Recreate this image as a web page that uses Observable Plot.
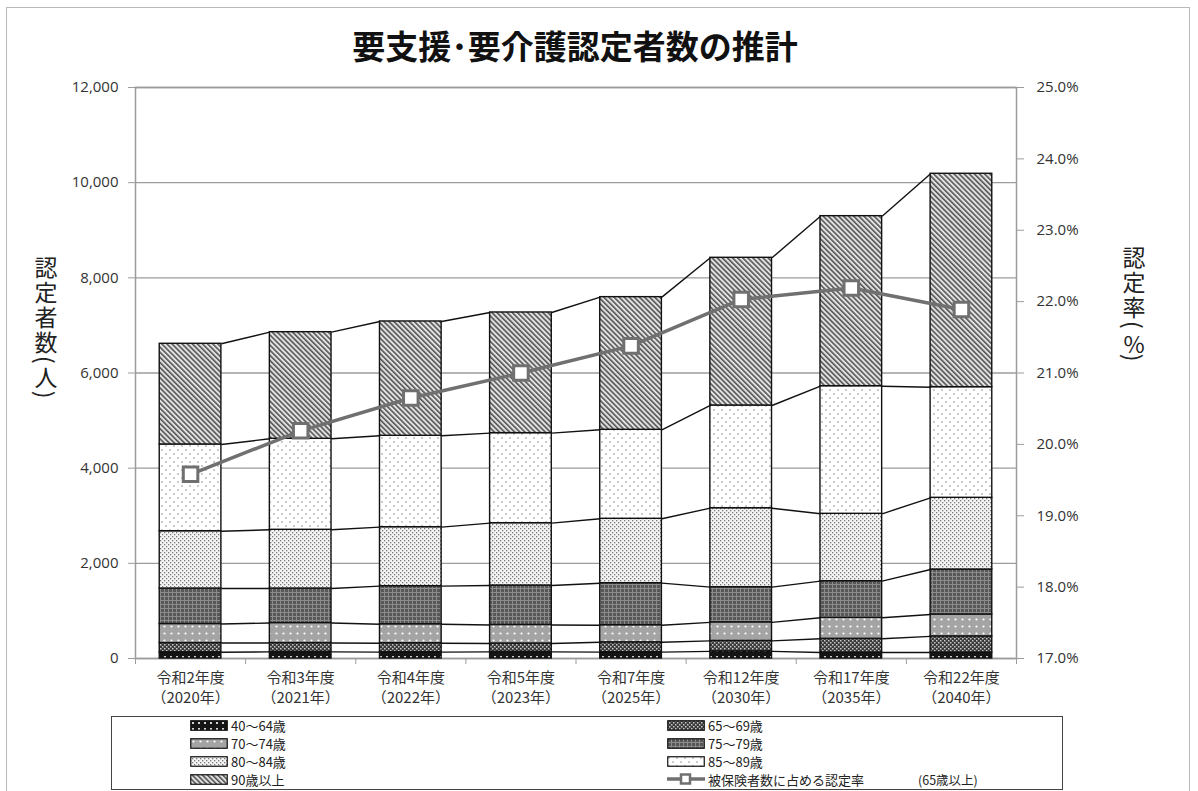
<!DOCTYPE html>
<html><head><meta charset="utf-8">
<script src="https://cdn.jsdelivr.net/npm/d3@7"></script>
<script src="https://cdn.jsdelivr.net/npm/@observablehq/plot@0.6"></script>
<style>
body{margin:0;background:#fff;font-family:"Noto Sans","Noto Sans CJK JP",sans-serif;color:#222;}
#wrap{position:relative;width:1198px;height:791px;overflow:hidden;background:#fff;}
#frame{position:absolute;left:6px;top:7px;width:1184px;height:820px;border:1.5px solid #b8b8b8;box-sizing:border-box;}
#chart{position:absolute;left:0;top:0;}
#title{position:absolute;left:0;width:1150px;top:27px;text-align:center;font-family:"Noto Sans CJK JP",sans-serif;font-weight:700;font-size:33px;line-height:36px;color:#111;}
.vtitle{position:absolute;writing-mode:vertical-rl;text-orientation:mixed;font-family:"Noto Sans CJK JP",sans-serif;font-size:23px;line-height:26px;letter-spacing:2px;color:#222;}
#legend{position:absolute;left:111px;top:716px;width:952px;height:74px;border:1.5px solid #444;box-sizing:border-box;}
.li{position:absolute;display:flex;align-items:center;height:15px;font-family:"Noto Sans CJK JP",sans-serif;font-size:13px;line-height:15px;color:#222;white-space:nowrap;}
.li span{display:inline-block;height:15px;line-height:15px;overflow:visible;}
.li svg{margin-right:3px;}
.li span.note{font-size:12.5px;margin-left:54px;}
</style></head>
<body>
<svg width="0" height="0" style="position:absolute">
<defs>
<pattern id="pat0" width="6" height="6" patternUnits="userSpaceOnUse">
  <rect width="6" height="6" fill="#151515"/><circle cx="3" cy="3" r="1.1" fill="#fff"/>
</pattern>
<pattern id="pat1" width="4" height="4" patternUnits="userSpaceOnUse">
  <rect width="4" height="4" fill="#3a3a3a"/><rect x="0" y="0" width="1.5" height="1.5" fill="#c8c8c8"/><rect x="2" y="2" width="1.5" height="1.5" fill="#c8c8c8"/>
</pattern>
<pattern id="pat2" width="7" height="7" patternUnits="userSpaceOnUse">
  <rect width="7" height="7" fill="#a4a4a4"/><circle cx="3.5" cy="3.5" r="1.1" fill="#fff"/>
</pattern>
<pattern id="pat3" width="4" height="4" patternUnits="userSpaceOnUse">
  <rect width="4" height="4" fill="#575757"/><rect x="0" y="0" width="4" height="1" fill="#8c8c8c"/><rect x="0" y="0" width="1" height="4" fill="#8c8c8c"/>
</pattern>
<pattern id="pat4" width="4" height="4" patternUnits="userSpaceOnUse">
  <rect width="4" height="4" fill="#f4f4f4"/><rect x="0" y="0" width="1.3" height="1.3" fill="#7a7a7a"/><rect x="2" y="2" width="1.3" height="1.3" fill="#7a7a7a"/>
</pattern>
<pattern id="pat5" width="8" height="8" patternUnits="userSpaceOnUse">
  <rect width="8" height="8" fill="#fff"/><circle cx="2" cy="2" r="0.8" fill="#8a8a8a"/><circle cx="6" cy="6" r="0.8" fill="#8a8a8a"/>
</pattern>
<pattern id="pat6" width="3.6" height="3.6" patternUnits="userSpaceOnUse" patternTransform="rotate(-45)">
  <rect width="3.6" height="3.6" fill="#e2e2e2"/><rect x="0" y="0" width="1.6" height="3.6" fill="#555"/>
</pattern>
</defs>
</svg>
<div id="wrap">
  <div id="frame"></div>
  <div id="chart"></div>
  <div id="title"></div>
  <div class="vtitle" id="ltitle" style="left:33px;top:256px;"></div>
  <div class="vtitle" id="rtitle" style="left:1121px;top:246px;"></div>
  <div id="legend"></div>
</div>
<script>
// ---- data ----
const titleText = "要支援･要介護認定者数の推計";
const leftAxisTitle = "認定者数(人)";
const rightAxisTitleMain = "認定率(";
const rightAxisTitleUnit = "%";
const categories = ["令和2年度","令和3年度","令和4年度","令和5年度","令和7年度","令和12年度","令和17年度","令和22年度"];
const years = ["（2020年）","（2021年）","（2022年）","（2023年）","（2025年）","（2030年）","（2035年）","（2040年）"];
const groups = ["40〜64歳","65〜69歳","70〜74歳","75〜79歳","80〜84歳","85〜89歳","90歳以上"];
const age40_64  = [130, 140, 133, 140, 133, 150, 125, 125];
const age65_69  = [195, 185, 189, 175, 207, 220, 289, 340];
const age70_74  = [400, 420, 398, 390, 360, 390, 441, 460];
const age75_79  = [746, 726, 800, 829, 883, 739, 770, 945];
const age80_84  = [1204, 1234, 1240, 1310, 1353, 1660, 1416, 1507];
const age85_89  = [1823, 1912, 1920, 1892, 1870, 2158, 2682, 2325];
const age90plus = [2116, 2241, 2403, 2536, 2788, 3104, 3573, 4485];
const rate = [19.58, 20.19, 20.65, 21.00, 21.38, 22.03, 22.19, 21.89];
const leftTicks = [0, 2000, 4000, 6000, 8000, 10000, 12000];
const rightTicks = [17, 18, 19, 20, 21, 22, 23, 24, 25];
const lineLabel = "被保険者数に占める認定率";
const lineNote = "(65歳以上)";

// ---- derived tables ----
const series = [age40_64, age65_69, age70_74, age75_79, age80_84, age85_89, age90plus];
const patterns = groups.map((g, k) => `url(#pat${k})`);
const half = 0.28;
const rows = [];
const cum = [];
categories.forEach((c, i) => {
  let base = 0;
  series.forEach((s, k) => {
    rows.push({i, g: groups[k], y1: base, y2: base + s[i]});
    base += s[i];
    (cum[k] ||= [])[i] = base;
  });
});
const links = [];
cum.forEach(top => {
  for (let i = 0; i < top.length - 1; i++) links.push({i, a: top[i], b: top[i + 1]});
});
const yMax = leftTicks[leftTicks.length - 1];
const rMin = rightTicks[0], rMax = rightTicks[rightTicks.length - 1];
const rToY = r => (r - rMin) / (rMax - rMin) * yMax;
const idx = categories.map((c, i) => i);
const boundaries = d3.range(-0.5, categories.length, 1);
const grid = "#9c9c9c";
const lineColor = "#707070";

const chart = Plot.plot({
  width: 1198, height: 716,
  marginLeft: 135, marginRight: 182, marginTop: 87, marginBottom: 58,
  style: {fontFamily: "'Open Sans','Noto Sans','Noto Sans CJK JP',sans-serif", fontSize: "15px", overflow: "visible", background: "transparent"},
  x: {type: "linear", domain: [-0.5, categories.length - 0.5], axis: null},
  y: {domain: [0, yMax], axis: null},
  color: {domain: groups, range: patterns},
  marks: [
    Plot.gridY(leftTicks, {stroke: grid, strokeOpacity: 1, strokeWidth: 1.3}),
    Plot.frame({stroke: grid, strokeWidth: 1.5}),
    Plot.axisY(leftTicks, {anchor: "left", tickFormat: d3.format(","), tickSize: 7, tickPadding: 10, stroke: grid, fill: "#333", fontSize: 15}),
    Plot.axisY(rightTicks.map(rToY), {anchor: "right", tickFormat: v => (rMin + v / yMax * (rMax - rMin)).toFixed(1) + "%", tickSize: 7, tickPadding: 13, stroke: grid, fill: "#333", fontSize: 15}),
    Plot.axisX(boundaries, {anchor: "bottom", tickSize: 6, tickFormat: () => "", stroke: grid}),
    Plot.rect(rows, {x1: d => d.i - half, x2: d => d.i + half, y1: "y1", y2: "y2", fill: "g", stroke: "#111", strokeWidth: 1.4}),
    Plot.link(links, {x1: d => d.i + half, x2: d => d.i + 1 - half, y1: "a", y2: "b", stroke: "#111", strokeWidth: 1.4}),
    Plot.line(rate, {x: (d, i) => i, y: d => rToY(d), stroke: lineColor, strokeWidth: 3.5}),
    Plot.dot(rate, {x: (d, i) => i, y: d => rToY(d), symbol: "square", r: 8.2, fill: "white", stroke: lineColor, strokeWidth: 3}),
    Plot.text(idx, {x: d => d, y: 0, text: d => categories[d] + "\n" + years[d], dy: 10, lineAnchor: "top", lineHeight: 1.35, fontSize: 15, fill: "#333", fontFamily: "'Noto Sans CJK JP',sans-serif"})
  ]
});
document.getElementById("chart").appendChild(chart);

document.getElementById("title").textContent = titleText;
document.getElementById("ltitle").textContent = leftAxisTitle;
const rt = document.getElementById("rtitle");
rt.append(rightAxisTitleMain);
const u = document.createElement("span");
u.style.textCombineUpright = "all";
u.textContent = rightAxisTitleUnit;
rt.append(u, ")");

// ---- legend ----
const wrap = document.getElementById("wrap");
const rowY = [725, 743, 761, 779];
const colX = [190, 667];
function swatchSvg(k) {
  return `<svg width="38" height="11"><rect x="0.75" y="0.75" width="36.5" height="9.5" fill="${patterns[k]}" stroke="#111" stroke-width="1.2"/></svg>`;
}
groups.forEach((g, k) => {
  const d = document.createElement("div");
  d.className = "li";
  d.style.left = colX[k % 2] + "px";
  d.style.top = (rowY[Math.floor(k / 2)] - 7.5) + "px";
  d.innerHTML = swatchSvg(k);
  const s = document.createElement("span");
  s.textContent = g;
  d.appendChild(s);
  wrap.appendChild(d);
});
const ld = document.createElement("div");
ld.className = "li";
ld.style.left = colX[1] + "px";
ld.style.top = (rowY[3] - 7.5) + "px";
ld.innerHTML = `<svg width="38" height="14"><line x1="0" y1="7" x2="38" y2="7" stroke="${lineColor}" stroke-width="3.5"/><rect x="14" y="2.5" width="9" height="9" fill="#fff" stroke="${lineColor}" stroke-width="2.5"/></svg>`;
const ls = document.createElement("span"); ls.textContent = lineLabel;
const ln = document.createElement("span"); ln.className = "note"; ln.textContent = lineNote;
ld.append(ls, ln);
wrap.appendChild(ld);
</script>
</body></html>
